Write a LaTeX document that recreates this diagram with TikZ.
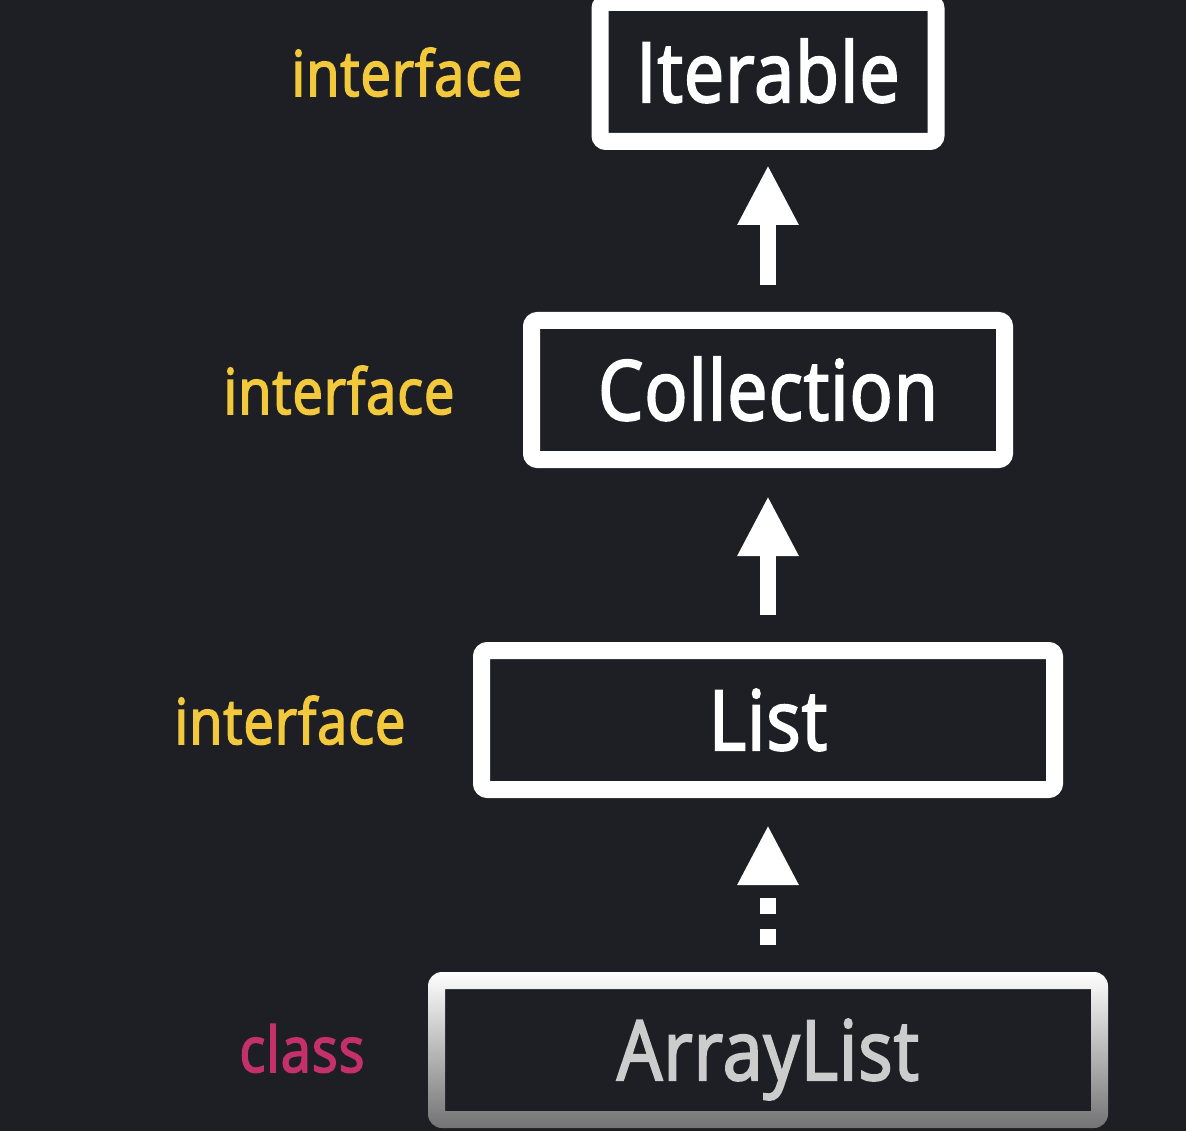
\documentclass[tikz,border=0pt]{standalone}
\usepackage{fontspec}
\newfontfamily\kastenfont[FakeStretch=0.86, FakeBold=2.5, LetterSpace=1.5]{Open Sans}
\usetikzlibrary{arrows.meta, calc}
\definecolor{hinter}{HTML}{1E1F24}
\definecolor{gelb}{HTML}{F2C83C}
\definecolor{klassenrot}{HTML}{C4306A}
\begin{document}
\begin{tikzpicture}[x=1pt, y=-1pt,
				kasten/.style={draw=white, line width=17pt, fill=hinter, rounded corners=6pt, minimum height=139pt,
					inner sep=0pt, text=white, text height=60pt, text depth=0pt, font=\kastenfont\fontsize{83}{90}\selectfont},
				art/.style={anchor=base, inner sep=0pt, text=gelb, font=\kastenfont\fontsize{63}{70}\selectfont},
				pfeil/.style={white, line width=16pt, -{Triangle[width=57pt, length=60pt]}}]
				% Hintergrund
				\fill[hinter] (0,0) rectangle (1186,1131);
				\useasboundingbox (0,0) rectangle (1186,1131);
				% Kästen zeichnen
				\node[kasten, minimum width=336pt] (iter) at (768,72) {Iterable};
				\node[kasten, minimum width=473pt] (coll) at (768,390) {Collection};
				\node[kasten, minimum width=573pt] (list) at (768,720) {List};
				\node[kasten, draw=none, text=white!80!black, minimum width=663pt] (arr) at (768,1050) {ArrayList};
				% Rahmen mit Verlauf
				\shade[top color=white, middle color=white!93!black, bottom color=white!45!black, even odd rule]
					[rounded corners=14pt] (arr.south west) rectangle (arr.north east)
					[sharp corners] ($(arr.south west)+(17,-17)$) rectangle ($(arr.north east)+(-17,17)$);
				% Beschriftung links
				\node[art] (art1) at (407,96) {interface};
				\node[art] (art2) at (339,414) {interface};
				\node[art] (art3) at (290,744) {interface};
				\node[art, text=klassenrot] (art4) at (302,1072) {class};
				% Pfeile zeichnen
				\draw[pfeil, shorten <=27pt, shorten >=15pt] (coll.north) -- (iter.south);
				\draw[pfeil, shorten <=27pt, shorten >=28pt] (list.north) -- (coll.south);
				\draw[pfeil, dash pattern=on 16pt off 15pt, shorten <=27pt, shorten >=27pt] (arr.north) -- (list.south);
			\end{tikzpicture}
\end{document}
